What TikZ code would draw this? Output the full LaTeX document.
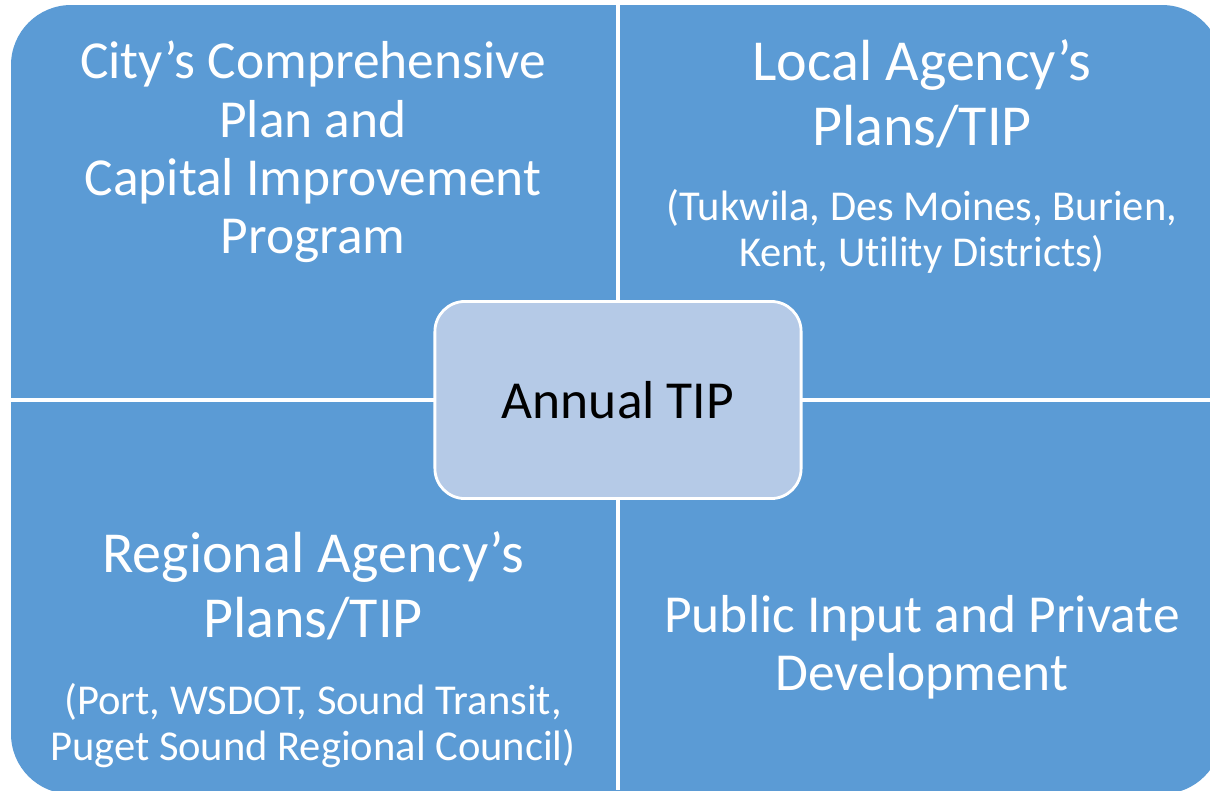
\documentclass[tikz,border=0pt]{standalone}
\usepackage{fontspec}
\setmainfont{Carlito}[Ligatures=NoCommon]
\usetikzlibrary{positioning}
\definecolor{tipblue}{RGB}{91,155,213}
\definecolor{tiplight}{RGB}{181,202,231}
\newcommand{\bigtxt}{\fontsize{15.2}{16.6}\selectfont}
\newcommand{\headtxt}{\fontsize{16.5}{18.4}\selectfont}
\newcommand{\smalltxt}{\fontsize{12.1}{13.1}\selectfont}
\begin{document}
\begin{tikzpicture}[x=0.01cm, y=-0.01cm,
  quad/.style={white, align=center, font=\bigtxt},
  head/.style={white, align=center, font=\headtxt},
  sub/.style={white, align=center, font=\smalltxt}]
  \useasboundingbox (0,0) rectangle (1210,790);
  \clip (0,0) rectangle (1210,790);
  % blue matrix
  \fill[tipblue, rounded corners=0.6cm] (11,5) rectangle (1222,794);
  \draw[white, line width=0.9pt] (618,0) -- (618,790);
  \draw[white, line width=0.9pt] (0,400) -- (1210,400);
  % centre
  \node[draw=white, line width=0.8pt, fill=tiplight, rounded corners=0.3cm,
        minimum width=3.66cm, minimum height=1.97cm, font=\bigtxt] (tip) at (618,400) {Annual TIP};
  % quadrants
  \node[quad] (city) at (313,152) {City’s Comprehensive\\Plan and\\Capital Improvement\\Program};
  \node[head] (local) at (922,94) {Local Agency’s\\Plans/TIP};
  \node[sub, below=0.16cm of local] (localsub) {(Tukwila, Des Moines, Burien,\\Kent, Utility Districts)};
  \node[head] (regional) at (313,586) {Regional Agency’s\\Plans/TIP};
  \node[sub, below=0.18cm of regional] (regsub) {(Port, WSDOT, Sound Transit,\\Puget Sound Regional Council)};
  \node[quad] (public) at (922,647) {Public Input and Private\\Development};
\end{tikzpicture}
\end{document}
